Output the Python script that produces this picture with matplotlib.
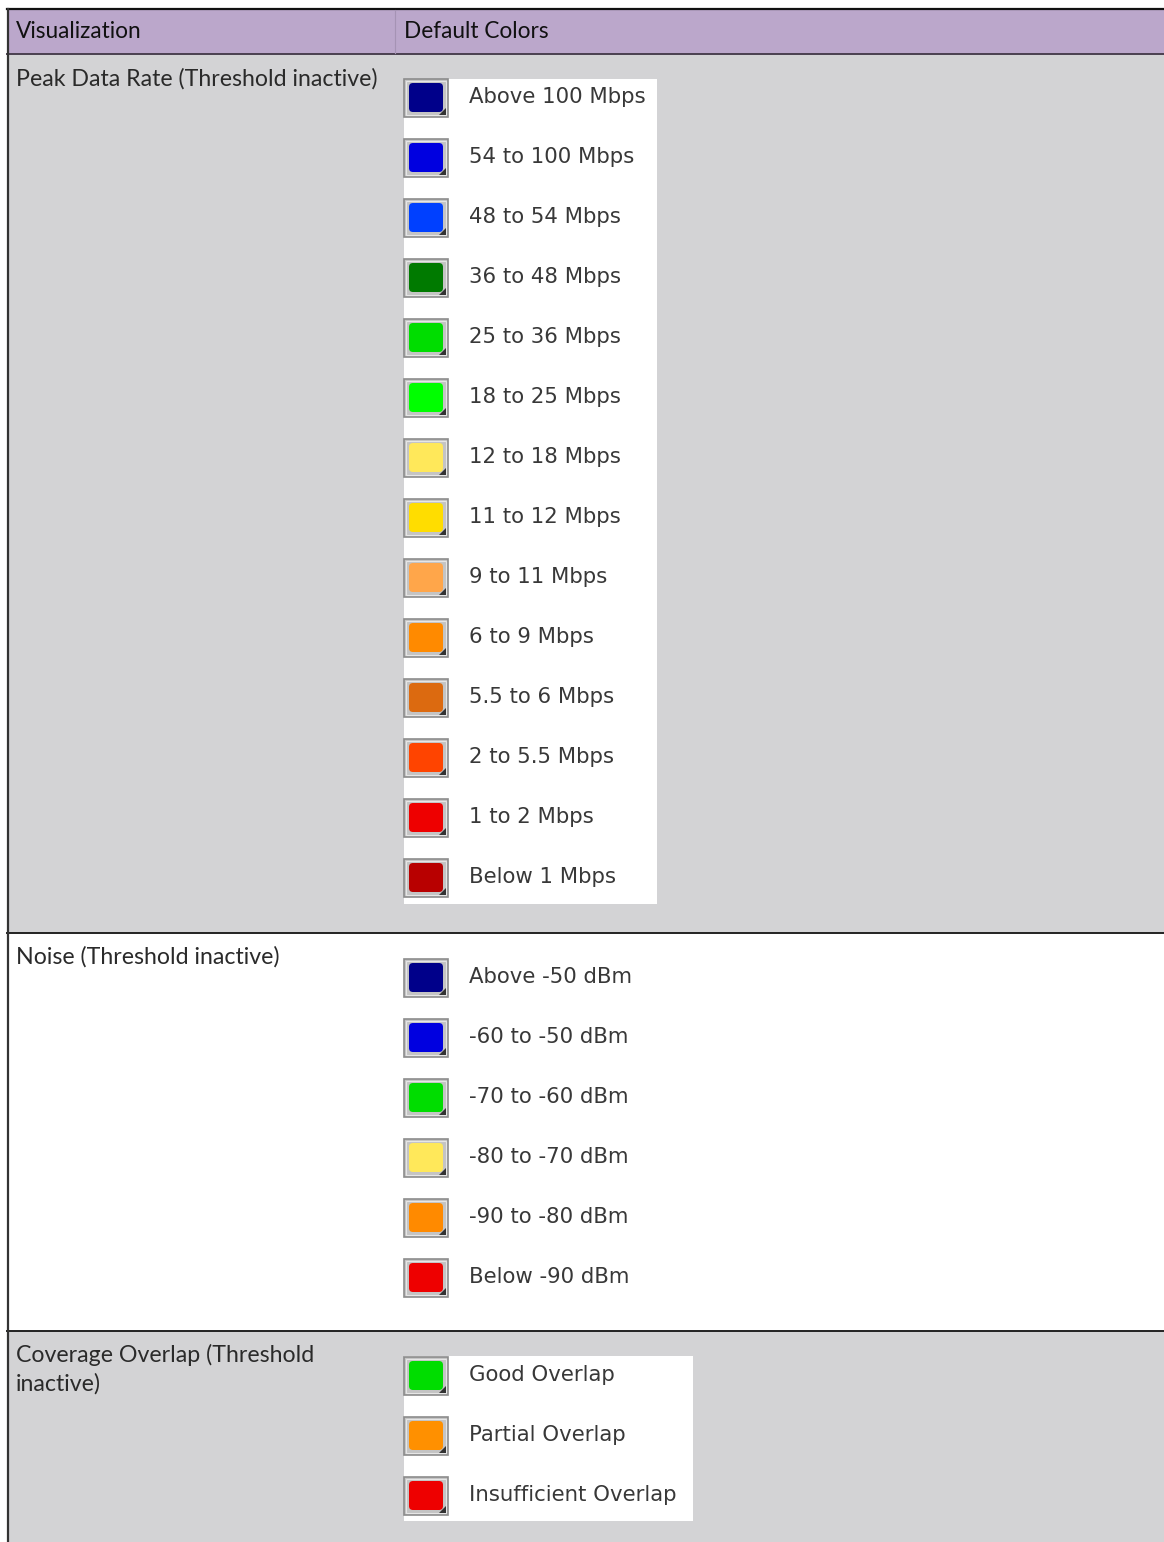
import matplotlib
matplotlib.use('Agg')
import matplotlib.pyplot as plt
from matplotlib.patches import Rectangle, FancyBboxPatch, Polygon

# table content
headers = ['Visualization', 'Default Colors']

rate_title = 'Peak Data Rate (Threshold inactive)'
rate_labels = ['Above 100 Mbps', '54 to 100 Mbps', '48 to 54 Mbps', '36 to 48 Mbps',
               '25 to 36 Mbps', '18 to 25 Mbps', '12 to 18 Mbps', '11 to 12 Mbps',
               '9 to 11 Mbps', '6 to 9 Mbps', '5.5 to 6 Mbps', '2 to 5.5 Mbps',
               '1 to 2 Mbps', 'Below 1 Mbps']
rate_colors = ['#00008a', '#0000e0', '#0040ff', '#007a00', '#00dd00', '#00ff00',
               '#ffe85a', '#ffdd00', '#ffa64a', '#ff8a00', '#dc6a10', '#ff4400',
               '#ee0000', '#b80000']

noise_title = 'Noise (Threshold inactive)'
noise_labels = ['Above -50 dBm', '-60 to -50 dBm', '-70 to -60 dBm', '-80 to -70 dBm',
                '-90 to -80 dBm', 'Below -90 dBm']
noise_colors = ['#00008a', '#0000e0', '#00dd00', '#ffe85a', '#ff8a00', '#ee0000']

overlap_title = 'Coverage Overlap (Threshold\ninactive)'
overlap_labels = ['Good Overlap', 'Partial Overlap', 'Insufficient Overlap']
overlap_colors = ['#00dd00', '#ff9000', '#ee0000']

W, H = 1164, 1542
fig = plt.figure(figsize=(W / 100, H / 100), dpi=100)
ax = fig.add_axes([0, 0, 1, 1])
ax.set_xlim(0, W)
ax.set_ylim(H, 0)
ax.axis('off')

head_font = ['Lato', 'DejaVu Sans']
body_font = ['Lato', 'DejaVu Sans']
swatch_font = ['DejaVu Sans']

# row backgrounds: (top, bottom, colour)
rows = [(54, 933, '#d3d3d5'), (933, 1331, '#ffffff'), (1331, H, '#d3d3d5')]
ax.add_patch(Rectangle((7, 9), W - 7, 45, facecolor='#bba7cb', edgecolor='none'))
for top, bot, col in rows:
    ax.add_patch(Rectangle((7, top), W - 7, bot - top, facecolor=col, edgecolor='none'))

# grid lines
ax.plot([7, W], [9, 9], color='#111111', lw=1.6)
ax.plot([7, W], [54, 54], color='#4a4050', lw=1.4)
ax.plot([7, W], [933, 933], color='#222222', lw=1.4)
ax.plot([7, W], [1331, 1331], color='#222222', lw=1.4)
ax.plot([7.5, 7.5], [9, H], color='#333333', lw=1.6)
ax.plot([395, 395], [10, 53], color='#a593b4', lw=0.8)

ax.text(16, 32, headers[0], fontsize=16.3, family=head_font, va='center', color='#111111')
ax.text(404, 32, headers[1], fontsize=16.3, family=head_font, va='center', color='#111111')


def draw_swatch(yc, color):
    x0, w, h = 404, 44, 38
    y0 = yc - h / 2
    ax.add_patch(Rectangle((x0, y0), w, h, facecolor='#c4c4c4', edgecolor='#8c8c8c', lw=1.2))
    ax.add_patch(Rectangle((x0 + 2, y0 + 2), w - 4, h - 4, facecolor='none',
                           edgecolor='#e6e6e6', lw=0.8))
    ax.add_patch(FancyBboxPatch((x0 + 5, y0 + 4), w - 10, h - 9,
                                boxstyle='round,pad=0,rounding_size=4',
                                facecolor=color, edgecolor='none'))
    ax.add_patch(Polygon([(x0 + w - 2, y0 + h - 9), (x0 + w - 2, y0 + h - 2),
                          (x0 + w - 9, y0 + h - 2)], closed=True,
                         facecolor='#333333', edgecolor='none'))


def draw_section(title, labels, colors, y_title, y_first, box=None):
    ax.text(16, y_title, title, fontsize=16.7, family=body_font, va='top',
            color='#2a2a2a', linespacing=1.4)
    if box is not None:
        bx0, by0, bx1, by1 = box
        ax.add_patch(Rectangle((bx0, by0), bx1 - bx0, by1 - by0, facecolor='white',
                               edgecolor='none'))
    for i, (lab, col) in enumerate(zip(labels, colors)):
        yc = y_first + 60 * i
        draw_swatch(yc, col)
        ax.text(469, yc - 1, lab, fontsize=15.3, family=swatch_font, va='center',
                color='#383838')


draw_section(rate_title, rate_labels, rate_colors, 68, 98, box=(404, 79, 657, 904))
draw_section(noise_title, noise_labels, noise_colors, 946, 978)
draw_section(overlap_title, overlap_labels, overlap_colors, 1344, 1376, box=(404, 1356, 693, 1521))

fig.savefig('out.png', dpi=100)
